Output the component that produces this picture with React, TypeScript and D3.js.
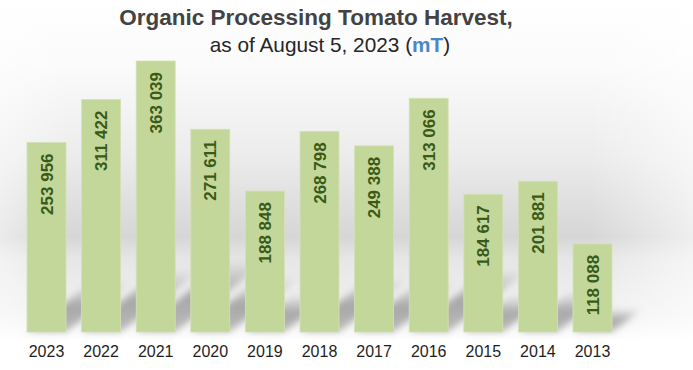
import React from 'react'
import * as d3 from 'd3'

const years = ['2023', '2022', '2021', '2020', '2019', '2018', '2017', '2016', '2015', '2014', '2013']
const harvest = [253956, 311422, 363039, 271611, 188848, 268798, 249388, 313066, 184617, 201881, 118088]
const labels = ['253 956', '311 422', '363 039', '271 611', '188 848', '268 798', '249 388', '313 066', '184 617', '201 881', '118 088']

const width = 693
const height = 370
const baseY = 332

function App() {
  // scales
  const x = d3.scaleBand().domain(years).range([19.2, 619.8]).paddingInner(0.286).paddingOuter(0.143)
  const y = d3.scaleLinear().domain([0, 363039]).range([baseY, 61])

  const shadow = (d: number, i: number) => {
    const x0 = x(years[i])!
    const x1 = x0 + x.bandwidth()
    const h = baseY - y(d)
    const dx = h * 0.35
    const dy = h * 0.27
    const pts: [number, number][] = [[x0, baseY], [x1, baseY], [x1 + dx, baseY - dy], [x0 + dx, baseY - dy]]
    return d3.line()(pts.concat([pts[0]]))!
  }

  return (
    <svg width={width} height={height} style={{ position: 'absolute', left: 0, top: 0 }}
      fontFamily="'Liberation Sans', Arial, sans-serif">
      <defs>
        <linearGradient id="bg" x1="0" y1="0" x2="0" y2={height} gradientUnits="userSpaceOnUse">
          <stop offset="0" stopColor="#ffffff" />
          <stop offset="0.17" stopColor="#fbfbfb" />
          <stop offset="0.42" stopColor="#ececec" />
          <stop offset="0.64" stopColor="#d6d6d6" />
          <stop offset="0.7" stopColor="#e6e6e6" />
          <stop offset="0.86" stopColor="#f3f3f3" />
          <stop offset="0.92" stopColor="#ffffff" />
        </linearGradient>
        <linearGradient id="side" x1="0" y1="0" x2="1" y2="0">
          <stop offset="0" stopColor="#fff" stopOpacity="0.5" />
          <stop offset="0.1" stopColor="#fff" stopOpacity="0" />
          <stop offset="0.85" stopColor="#fff" stopOpacity="0" />
          <stop offset="1" stopColor="#fff" stopOpacity="0.6" />
        </linearGradient>
        <linearGradient id="shd" x1="0" y1="1" x2="0" y2="0">
          <stop offset="0" stopColor="#808080" stopOpacity="0.5" />
          <stop offset="0.5" stopColor="#808080" stopOpacity="0.65" />
          <stop offset="1" stopColor="#808080" stopOpacity="0" />
        </linearGradient>
        <filter id="blur" x="-30%" y="-30%" width="160%" height="160%">
          <feGaussianBlur stdDeviation="3.5" />
        </filter>
      </defs>
      <rect width={width} height={height} fill="url(#bg)" />
      <rect width={width} height={height} fill="url(#side)" />

      {/* title */}
      <text x={316} y={25} textAnchor="middle" fontSize={22.5} fontWeight="bold" fill="#434343">
        Organic Processing Tomato Harvest,
      </text>
      <text x={330} y={52} textAnchor="middle" fontSize={20.8} fill="#262626">
        as of August 5, 2023 (<tspan fill="#4a86c8" fontWeight="bold">mT</tspan>)
      </text>

      {/* shadows */}
      <g filter="url(#blur)">
        {harvest.map((d, i) => (
          <path key={years[i]} d={shadow(d, i)} fill="url(#shd)" />
        ))}
      </g>

      {/* bars */}
      {harvest.map((d, i) => (
        <rect key={years[i]} x={x(years[i])} y={y(d)} width={x.bandwidth()} height={baseY - y(d)}
          fill="#c4d79b" stroke="#d3e2b3" strokeWidth={0.8} />
      ))}

      {/* value labels */}
      {harvest.map((d, i) => (
        <text key={years[i]} transform={`translate(${x(years[i])! + x.bandwidth() / 2},${y(d) + 11}) rotate(-90)`}
          textAnchor="end" dy="0.36em" fontSize={17} fontWeight="bold" fill="#3a5a17">
          {labels[i]}
        </text>
      ))}

      {/* year axis */}
      {years.map((yr) => (
        <text key={yr} x={x(yr)! + x.bandwidth() / 2} y={357} textAnchor="middle" fontSize={16} fill="#1e1e1e">
          {yr}
        </text>
      ))}
    </svg>
  )
}

export default App
